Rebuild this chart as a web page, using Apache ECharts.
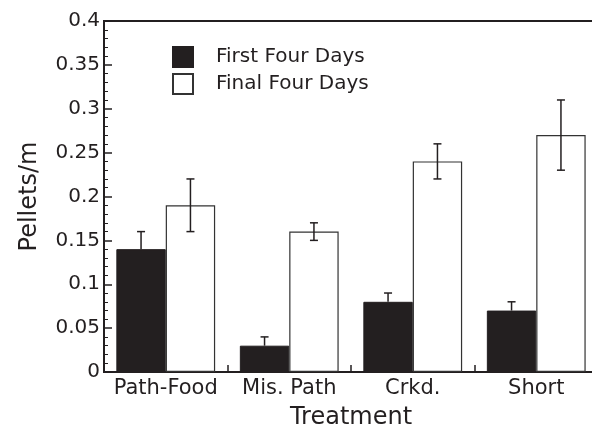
<!DOCTYPE html>
<html>
<head>
<meta charset="utf-8">
<script src="https://cdn.jsdelivr.net/npm/echarts@6/dist/echarts.min.js"></script>
<style>html,body{margin:0;padding:0;background:#fff}#c{width:592px;height:430px}</style>
</head>
<body>
<div id="c"></div>
<script>
var categories = ['Path-Food', 'Mis. Path', 'Crkd.', 'Short'];
var firstMean = [0.14, 0.03, 0.08, 0.07];
var firstErr = [0.02, 0.01, 0.01, 0.01];
var finalMean = [0.19, 0.16, 0.24, 0.27];
var finalErr = [0.03, 0.01, 0.02, 0.04];
var yTicks = [0, 0.05, 0.1, 0.15, 0.2, 0.25, 0.3, 0.35, 0.4];
var seriesNames = ['First Four Days', 'Final Four Days'];

var FONT = 'DejaVu Sans';
var INK = '#231f20';
var catGap = 0.2;

var firstErrData = categories.map(function (c, i) { return [i, firstMean[i], firstMean[i] + firstErr[i]]; });
var finalErrData = categories.map(function (c, i) { return [i, finalMean[i] - finalErr[i], finalMean[i] + finalErr[i]]; });

function makeErr(side, capBottom) {
  return function (params, api) {
    var idx = api.value(0);
    var lo = api.coord([idx, api.value(1)]);
    var hi = api.coord([idx, api.value(2)]);
    var band = api.size([1, 0])[0];
    var bw = band * (1 - catGap) / 2;
    var x = lo[0] + side * bw / 2;
    var cw = 4;
    var children = [
      { type: 'line', shape: { x1: x, y1: lo[1], x2: x, y2: hi[1] }, style: { stroke: INK, lineWidth: 1.5 } },
      { type: 'line', shape: { x1: x - cw, y1: hi[1], x2: x + cw, y2: hi[1] }, style: { stroke: INK, lineWidth: 1.5 } }
    ];
    if (capBottom) {
      children.push({ type: 'line', shape: { x1: x - cw, y1: lo[1], x2: x + cw, y2: lo[1] }, style: { stroke: INK, lineWidth: 1.5 } });
    }
    return { type: 'group', children: children };
  };
}

var chart = echarts.init(document.getElementById('c'), null, { renderer: 'canvas' });
chart.setOption({
  animation: false,
  backgroundColor: '#fff',
  textStyle: { fontFamily: FONT, color: INK },
  grid: {
    left: 104, top: 21, width: 494, height: 351,
    outerBoundsMode: 'none', containLabel: false,
    show: true, borderColor: INK, borderWidth: 2, backgroundColor: 'transparent'
  },
  legend: {
    orient: 'vertical',
    left: 167, top: 41,
    itemWidth: 20, itemHeight: 20, itemGap: 5,
    icon: 'rect',
    textStyle: { fontFamily: FONT, fontSize: 20, color: INK, padding: [0, 0, 0, 18] },
    data: seriesNames
  },
  xAxis: {
    type: 'category',
    data: categories,
    name: 'Treatment',
    nameLocation: 'middle',
    nameGap: 34,
    nameTextStyle: { fontFamily: FONT, fontSize: 24, color: INK },
    axisLine: { lineStyle: { color: INK, width: 2 } },
    axisTick: { show: true, inside: true, length: 7, lineStyle: { color: INK, width: 1.5 } },
    axisLabel: { interval: 0, fontFamily: FONT, fontSize: 21, color: INK, margin: 6 }
  },
  yAxis: {
    type: 'value',
    min: 0, max: 0.4, interval: 0.05,
    name: 'Pellets/m',
    nameLocation: 'middle',
    nameGap: 62,
    nameTextStyle: { fontFamily: FONT, fontSize: 24, color: INK },
    axisLine: { show: true, lineStyle: { color: INK, width: 2 } },
    axisTick: { show: true, inside: true, length: 8, lineStyle: { color: INK, width: 1.5 } },
    minorTick: { show: true, splitNumber: 5, length: 4, lineStyle: { color: INK, width: 1 } },
    splitLine: { show: false },
    axisLabel: {
      fontFamily: FONT, fontSize: 20, color: INK, margin: 4,
      formatter: function (v) {
        for (var i = 0; i < yTicks.length; i++) { if (Math.abs(yTicks[i] - v) < 1e-9) return String(yTicks[i]); }
        return '';
      }
    }
  },
  series: [
    {
      name: seriesNames[0], type: 'bar', data: firstMean,
      barGap: '0%', barCategoryGap: (catGap * 100) + '%',
      itemStyle: { color: INK, borderColor: INK, borderWidth: 1 }
    },
    {
      name: seriesNames[1], type: 'bar', data: finalMean,
      barGap: '0%', barCategoryGap: (catGap * 100) + '%',
      itemStyle: { color: '#fff', borderColor: '#333', borderWidth: 1.2 }
    },
    {
      type: 'custom', name: 'err1', data: firstErrData, renderItem: makeErr(-1, false),
      encode: { x: 0, y: [1, 2] }, z: 10
    },
    {
      type: 'custom', name: 'err2', data: finalErrData, renderItem: makeErr(1, true),
      encode: { x: 0, y: [1, 2] }, z: 10
    }
  ]
});
</script>
</body>
</html>
